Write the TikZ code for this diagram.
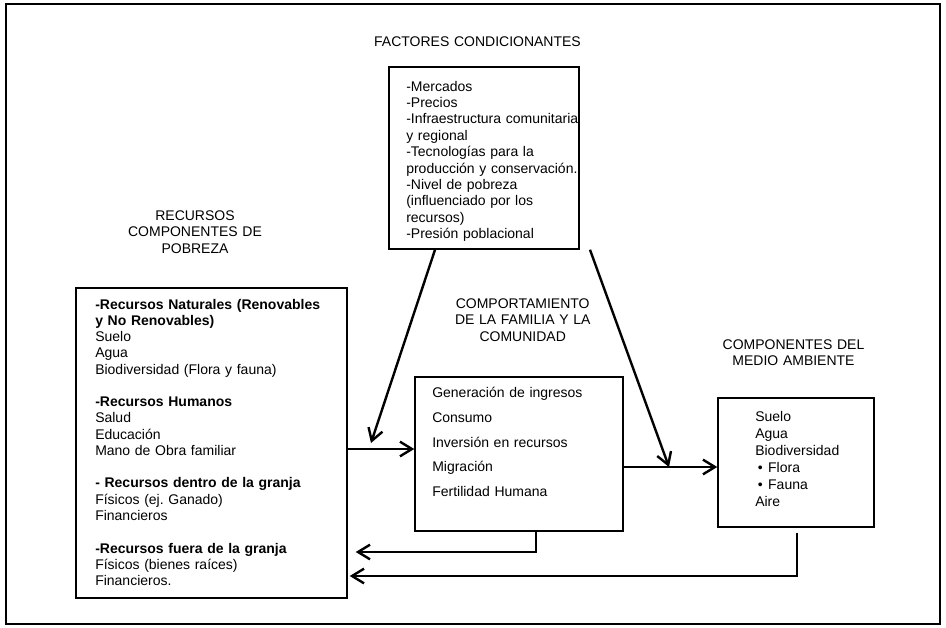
\documentclass[tikz,border=0pt]{standalone}
\usepackage{fontspec}
\setmainfont{Liberation Sans}
\usetikzlibrary{arrows.meta}
\frenchspacing

\begin{document}
\begin{tikzpicture}
        [
          x=0.75pt, y=-0.75pt,
          box/.style={draw, line width=1.1pt, inner sep=0pt},
          head/.style={anchor=base, align=center, text width=200pt, inner sep=0pt,
            font=\fontsize{10.5}{12.4}\selectfont},
          body/.style={anchor=base west, align=left, text width=200pt, inner sep=0pt,
            font=\fontsize{10.5}{12.3}\selectfont},
          flow/.style={line width=1.8pt, -{Straight Barb[length=9pt,width=11pt]}}
        ]
        \useasboundingbox (0,0) rectangle (946,628);
        % frame
        \draw[line width=1.8pt] (6,4) rectangle (940,624);
        % factores condicionantes
        \node [head] (facttl) at (477.5,46) {FACTORES CONDICIONANTES};
        \node [box, minimum width=142.5pt, minimum height=136.5pt] (fac) at (484,158) {};
        \node [body] (factxt) at (406,91) {-Mercados\\-Precios\\-Infraestructura comunitaria\\y regional\\-Tecnologías para la\\producción y conservación.\\-Nivel de pobreza\\(influenciado por los\\recursos)\\-Presión poblacional};
        % recursos
        \node [head] (recttl) at (195,220) {RECURSOS\\COMPONENTES DE\\POBREZA};
        \node [box, minimum width=203.25pt, minimum height=232.5pt] (rec) at (211.5,443) {};
        \node [body, font=\fontsize{10.5}{12.2}\selectfont] (rectxt) at (95,309) {\textbf{-Recursos Naturales (Renovables}\\\textbf{y No Renovables)}\\Suelo\\Agua\\Biodiversidad (Flora y fauna)\\[12.2pt]
          \textbf{-Recursos Humanos}\\Salud\\Educación\\Mano de Obra familiar\\[12.2pt]
          \textbf{- Recursos dentro de la granja}\\Físicos (ej. Ganado)\\Financieros\\[12.2pt]
          \textbf{-Recursos fuera de la granja}\\Físicos (bienes raíces)\\Financieros.};
        % comportamiento
        \node [head, font=\fontsize{10.5}{12.6}\selectfont] (compttl) at (522.7,308) {COMPORTAMIENTO\\DE LA FAMILIA Y LA\\COMUNIDAD};
        \node [box, minimum width=156pt, minimum height=115.5pt] (comp) at (519,454) {};
        \foreach \t [count=\i] in {Generación de ingresos, Consumo, Inversión en recursos, Migración, Fertilidad Humana} {
            \node [body] (act\i) at (432,{397.7+24.75*(\i-1)}) {\t};
        }
        % medio ambiente
        \node [head, font=\fontsize{10.5}{12.5}\selectfont] (ambttl) at (793.5,349) {COMPONENTES DEL\\MEDIO AMBIENTE};
        \node [box, minimum width=117pt, minimum height=96.75pt] (amb) at (796,462.5) {};
        \node [body, font=\fontsize{10.5}{12.75}\selectfont] (ambtxt) at (755,421.7) {Suelo\\Agua\\Biodiversidad\\\hspace*{2pt}\textbullet\hspace{4pt}Flora\\\hspace*{2pt}\textbullet\hspace{4pt}Fauna\\Aire};
        % flows
        \coordinate (fa) at (371,443);
        \coordinate (fb) at (669,467);
        \draw [flow] (rec.east |- 0,449) -- (comp.west |- 0,449);
        \draw [flow] (comp.east |- 0,467) -- (amb.west |- 0,467);
        \draw [flow] (fac.south -| 435,0) -- (fa);
        \draw [flow] (fac.south -| 590,0) -- (fb);
        \draw [flow, shorten >=6pt] (comp.south -| 536,0) |- (rec.east |- 0,552);
        \draw [flow, shorten <=3.75pt, shorten >=1.5pt] (amb.south -| 797,0) |- (rec.east |- 0,576);
\end{tikzpicture}
\end{document}
